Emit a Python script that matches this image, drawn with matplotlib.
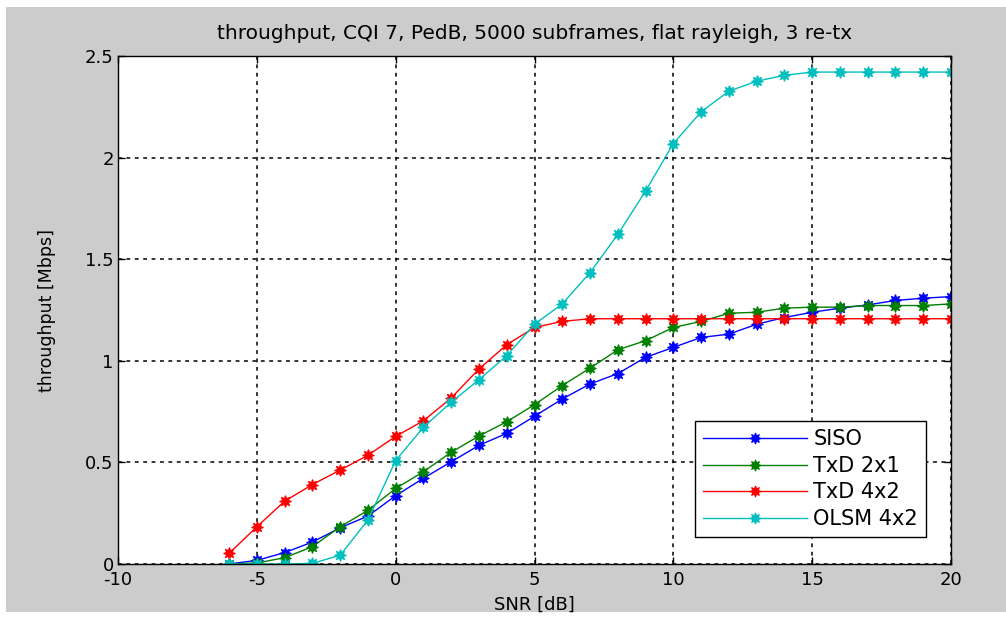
import matplotlib
matplotlib.use('Agg')
import matplotlib.pyplot as plt
from matplotlib.patches import Rectangle

plt.rcParams['font.family'] = ['DejaVu Sans']
plt.rcParams['axes.unicode_minus'] = False

# SNR sweep [dB]
snr = [-6, -5, -4, -3, -2, -1, 0, 1, 2, 3, 4, 5, 6, 7, 8, 9, 10,
       11, 12, 13, 14, 15, 16, 17, 18, 19, 20]

# throughput [Mbps]
siso = [0.0, 0.018, 0.056, 0.108, 0.178, 0.236, 0.336, 0.422, 0.503, 0.584,
        0.643, 0.727, 0.812, 0.886, 0.937, 1.017, 1.066, 1.115, 1.131, 1.18,
        1.213, 1.239, 1.259, 1.275, 1.297, 1.308, 1.316]
txd_2x1 = [0.0, 0.005, 0.031, 0.085, 0.183, 0.264, 0.372, 0.454, 0.55, 0.63,
           0.70, 0.784, 0.878, 0.964, 1.054, 1.099, 1.164, 1.194, 1.234, 1.239,
           1.259, 1.264, 1.264, 1.272, 1.272, 1.272, 1.28]
txd_4x2 = [0.052, 0.183, 0.309, 0.391, 0.462, 0.535, 0.628, 0.705, 0.817, 0.96,
           1.079, 1.164, 1.194, 1.207, 1.207, 1.207, 1.207, 1.207, 1.207, 1.207,
           1.207, 1.207, 1.207, 1.207, 1.207, 1.207, 1.207]
olsm_4x2 = [0.0, 0.0, 0.0, 0.003, 0.043, 0.216, 0.509, 0.673, 0.796, 0.907,
            1.025, 1.18, 1.28, 1.434, 1.622, 1.835, 2.069, 2.225, 2.327, 2.376,
            2.405, 2.421, 2.421, 2.421, 2.421, 2.421, 2.421]

series = [
    ('SISO', siso, '#0000ff'),
    ('TxD 2x1', txd_2x1, '#008000'),
    ('TxD 4x2', txd_4x2, '#ff0000'),
    ('OLSM 4x2', olsm_4x2, '#00bfbf'),
]

xticks = [-10, -5, 0, 5, 10, 15, 20]
yticks = [0, 0.5, 1, 1.5, 2, 2.5]

fig = plt.figure(figsize=(10.06, 6.17), dpi=100, facecolor='white')
# grey figure area with thin white margin
bg = Rectangle((6 / 1006, 5 / 617), 1000 / 1006, 605 / 617,
               transform=fig.transFigure, facecolor='#cccccc',
               edgecolor='none', zorder=-10)
fig.add_artist(bg)

ax = fig.add_axes([118 / 1006, 53 / 617, 833 / 1006, 508 / 617])
ax.set_facecolor('white')

for name, vals, col in series:
    ax.plot(snr, vals, color=col, lw=1.0, marker=(8, 1, 0), markersize=8.5,
            markeredgewidth=0.8, markeredgecolor=col, markerfacecolor=col,
            label=name)

ax.set_xlim(-10, 20)
ax.set_ylim(0, 2.5)
ax.set_xticks(xticks)
ax.set_yticks(yticks)
ax.set_xticklabels([str(t) for t in xticks])
ax.set_yticklabels(['0', '0.5', '1', '1.5', '2', '2.5'])
ax.grid(True, color='black', linestyle=(0, (2.5, 3)), linewidth=1.1)
ax.tick_params(direction='in', length=5, width=1, top=True, right=True,
               labelsize=13, colors='black', pad=3)
ax.tick_params(axis='x', pad=5)
for sp in ax.spines.values():
    sp.set_linewidth(1.0)
    sp.set_color('black')

ax.set_title('throughput, CQI 7, PedB, 5000 subframes, flat rayleigh, 3 re-tx',
             fontsize=14.5, pad=12)
ax.set_xlabel('SNR [dB]', fontsize=13, labelpad=5)
ax.set_ylabel('throughput [Mbps]', fontsize=12.5, labelpad=21)

leg = ax.legend(loc='lower right', bbox_to_anchor=(0.970, 0.053),
                borderaxespad=0, fontsize=15, handlelength=5.0,
                fancybox=False, framealpha=1, edgecolor='black',
                labelspacing=0.32, borderpad=0.38, handletextpad=0.3)
leg.get_frame().set_linewidth(1.0)
for h in leg.legend_handles:
    h.set_markersize(8)

fig.savefig('out.png', dpi=100, facecolor=fig.get_facecolor())
